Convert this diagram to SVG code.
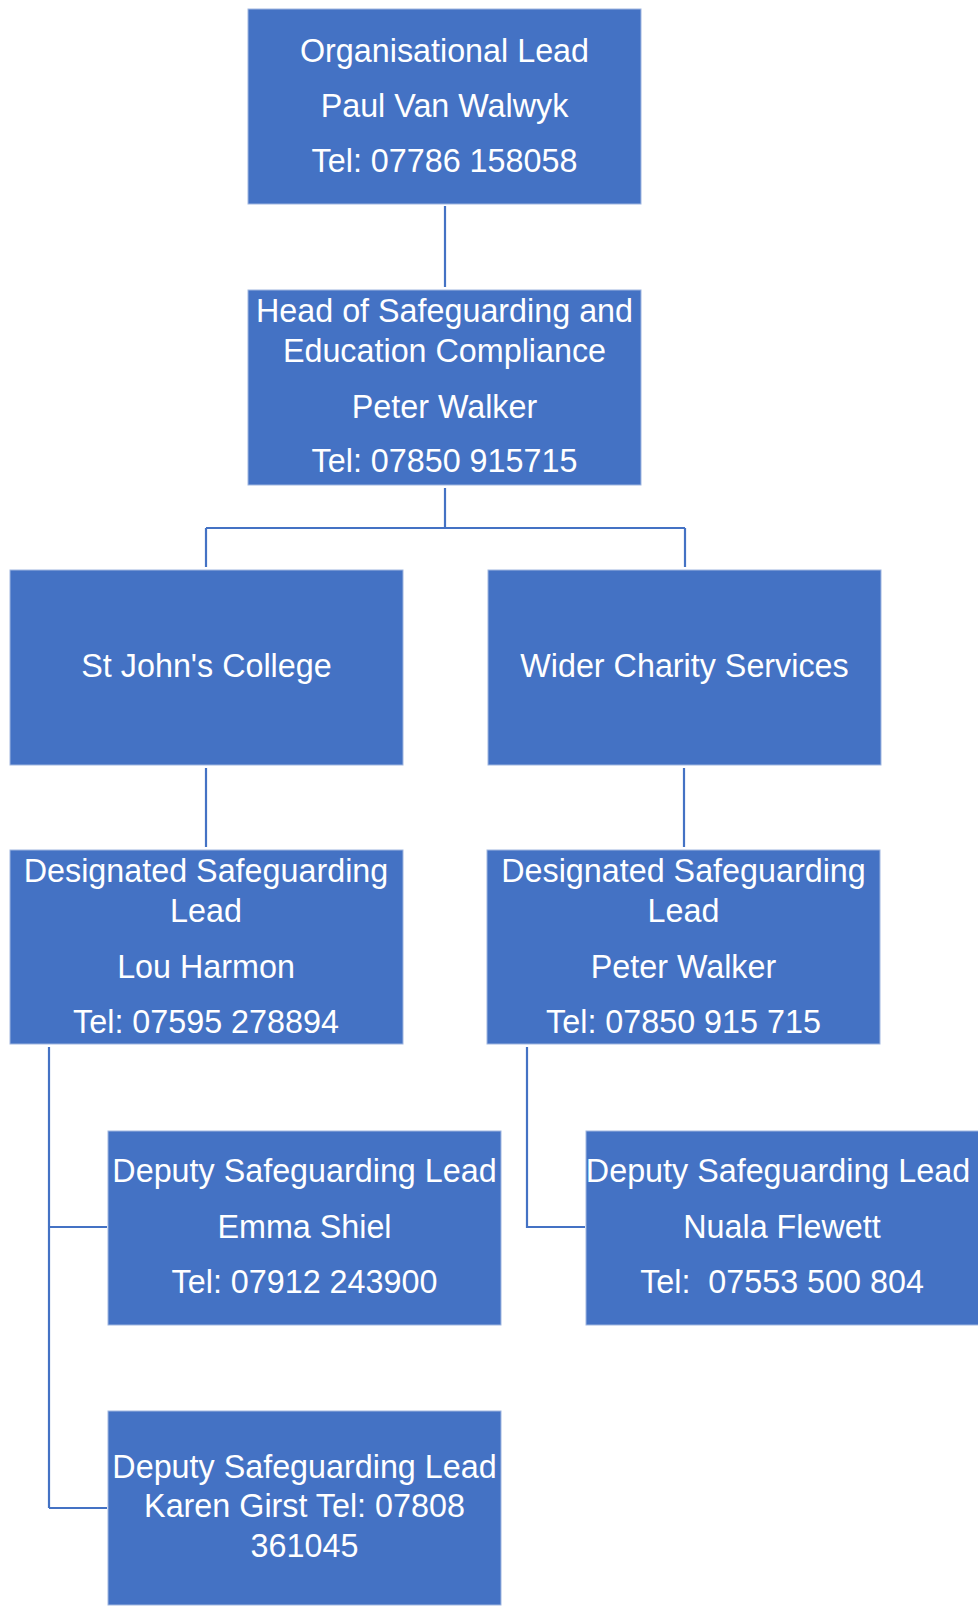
<svg xmlns="http://www.w3.org/2000/svg" width="978" height="1607" viewBox="0 0 978 1607">
<style>
.box{fill:#4472C4;stroke:#9fb6e0;stroke-width:1}
.t{font-family:"Liberation Sans",Arial,sans-serif;font-size:32.3px;fill:#ffffff;text-anchor:middle}
.c{fill:none;stroke:#4472C4;stroke-width:2.2}
</style>
<rect width="978" height="1607" fill="#ffffff"/>
<g id="connectors">
<path class="c" d="M445 206 V287"/>
<path class="c" d="M445 488 V528 M206 528 H685 M206 528 V567 M685 528 V567"/>
<path class="c" d="M206 768 V847"/>
<path class="c" d="M684 768 V847"/>
<path class="c" d="M49 1047 V1508 M49 1227 H107 M49 1508 H107"/>
<path class="c" d="M527 1047 V1227 H585"/>
</g>
<g id="org-lead">
<rect class="box" x="248" y="9" width="393" height="195"/>
<text class="t" x="444.5" y="62">Organisational Lead</text>
<text class="t" x="444.5" y="117">Paul Van Walwyk</text>
<text class="t" x="444.5" y="172">Tel: 07786 158058</text>
</g>
<g id="head">
<rect class="box" x="248" y="290" width="393" height="195"/>
<text class="t" x="444.5" y="322">Head of Safeguarding and</text>
<text class="t" x="444.5" y="362">Education Compliance</text>
<text class="t" x="444.5" y="418">Peter Walker</text>
<text class="t" x="444.5" y="472">Tel: 07850 915715</text>
</g>
<g id="st-johns">
<rect class="box" x="10" y="570" width="393" height="195"/>
<text class="t" x="206.5" y="677">St John's College</text>
</g>
<g id="wider-charity">
<rect class="box" x="488" y="570" width="393" height="195"/>
<text class="t" x="684.5" y="677">Wider Charity Services</text>
</g>
<g id="dsl-left">
<rect class="box" x="10" y="850" width="393" height="194"/>
<text class="t" x="206" y="882">Designated Safeguarding</text>
<text class="t" x="206" y="922">Lead</text>
<text class="t" x="206" y="978">Lou Harmon</text>
<text class="t" x="206" y="1033">Tel: 07595 278894</text>
</g>
<g id="dsl-right">
<rect class="box" x="487" y="850" width="393" height="194"/>
<text class="t" x="683.5" y="882">Designated Safeguarding</text>
<text class="t" x="683.5" y="922">Lead</text>
<text class="t" x="683.5" y="978">Peter Walker</text>
<text class="t" x="683.5" y="1033">Tel: 07850 915 715</text>
</g>
<g id="deputy-emma">
<rect class="box" x="108" y="1131" width="393" height="194"/>
<text class="t" x="304.5" y="1182">Deputy Safeguarding Lead</text>
<text class="t" x="304.5" y="1238">Emma Shiel</text>
<text class="t" x="304.5" y="1293">Tel: 07912 243900</text>
</g>
<g id="deputy-nuala">
<rect class="box" x="586" y="1131" width="393" height="194"/>
<text class="t" x="778" y="1182">Deputy Safeguarding Lead</text>
<text class="t" x="782" y="1238">Nuala Flewett</text>
<text class="t" x="782" y="1293" xml:space="preserve">Tel:  07553 500 804</text>
</g>
<g id="deputy-karen">
<rect class="box" x="108" y="1411" width="393" height="194"/>
<text class="t" x="304.5" y="1478">Deputy Safeguarding Lead</text>
<text class="t" x="304.5" y="1517">Karen Girst Tel: 07808</text>
<text class="t" x="304.5" y="1557">361045</text>
</g>
</svg>
